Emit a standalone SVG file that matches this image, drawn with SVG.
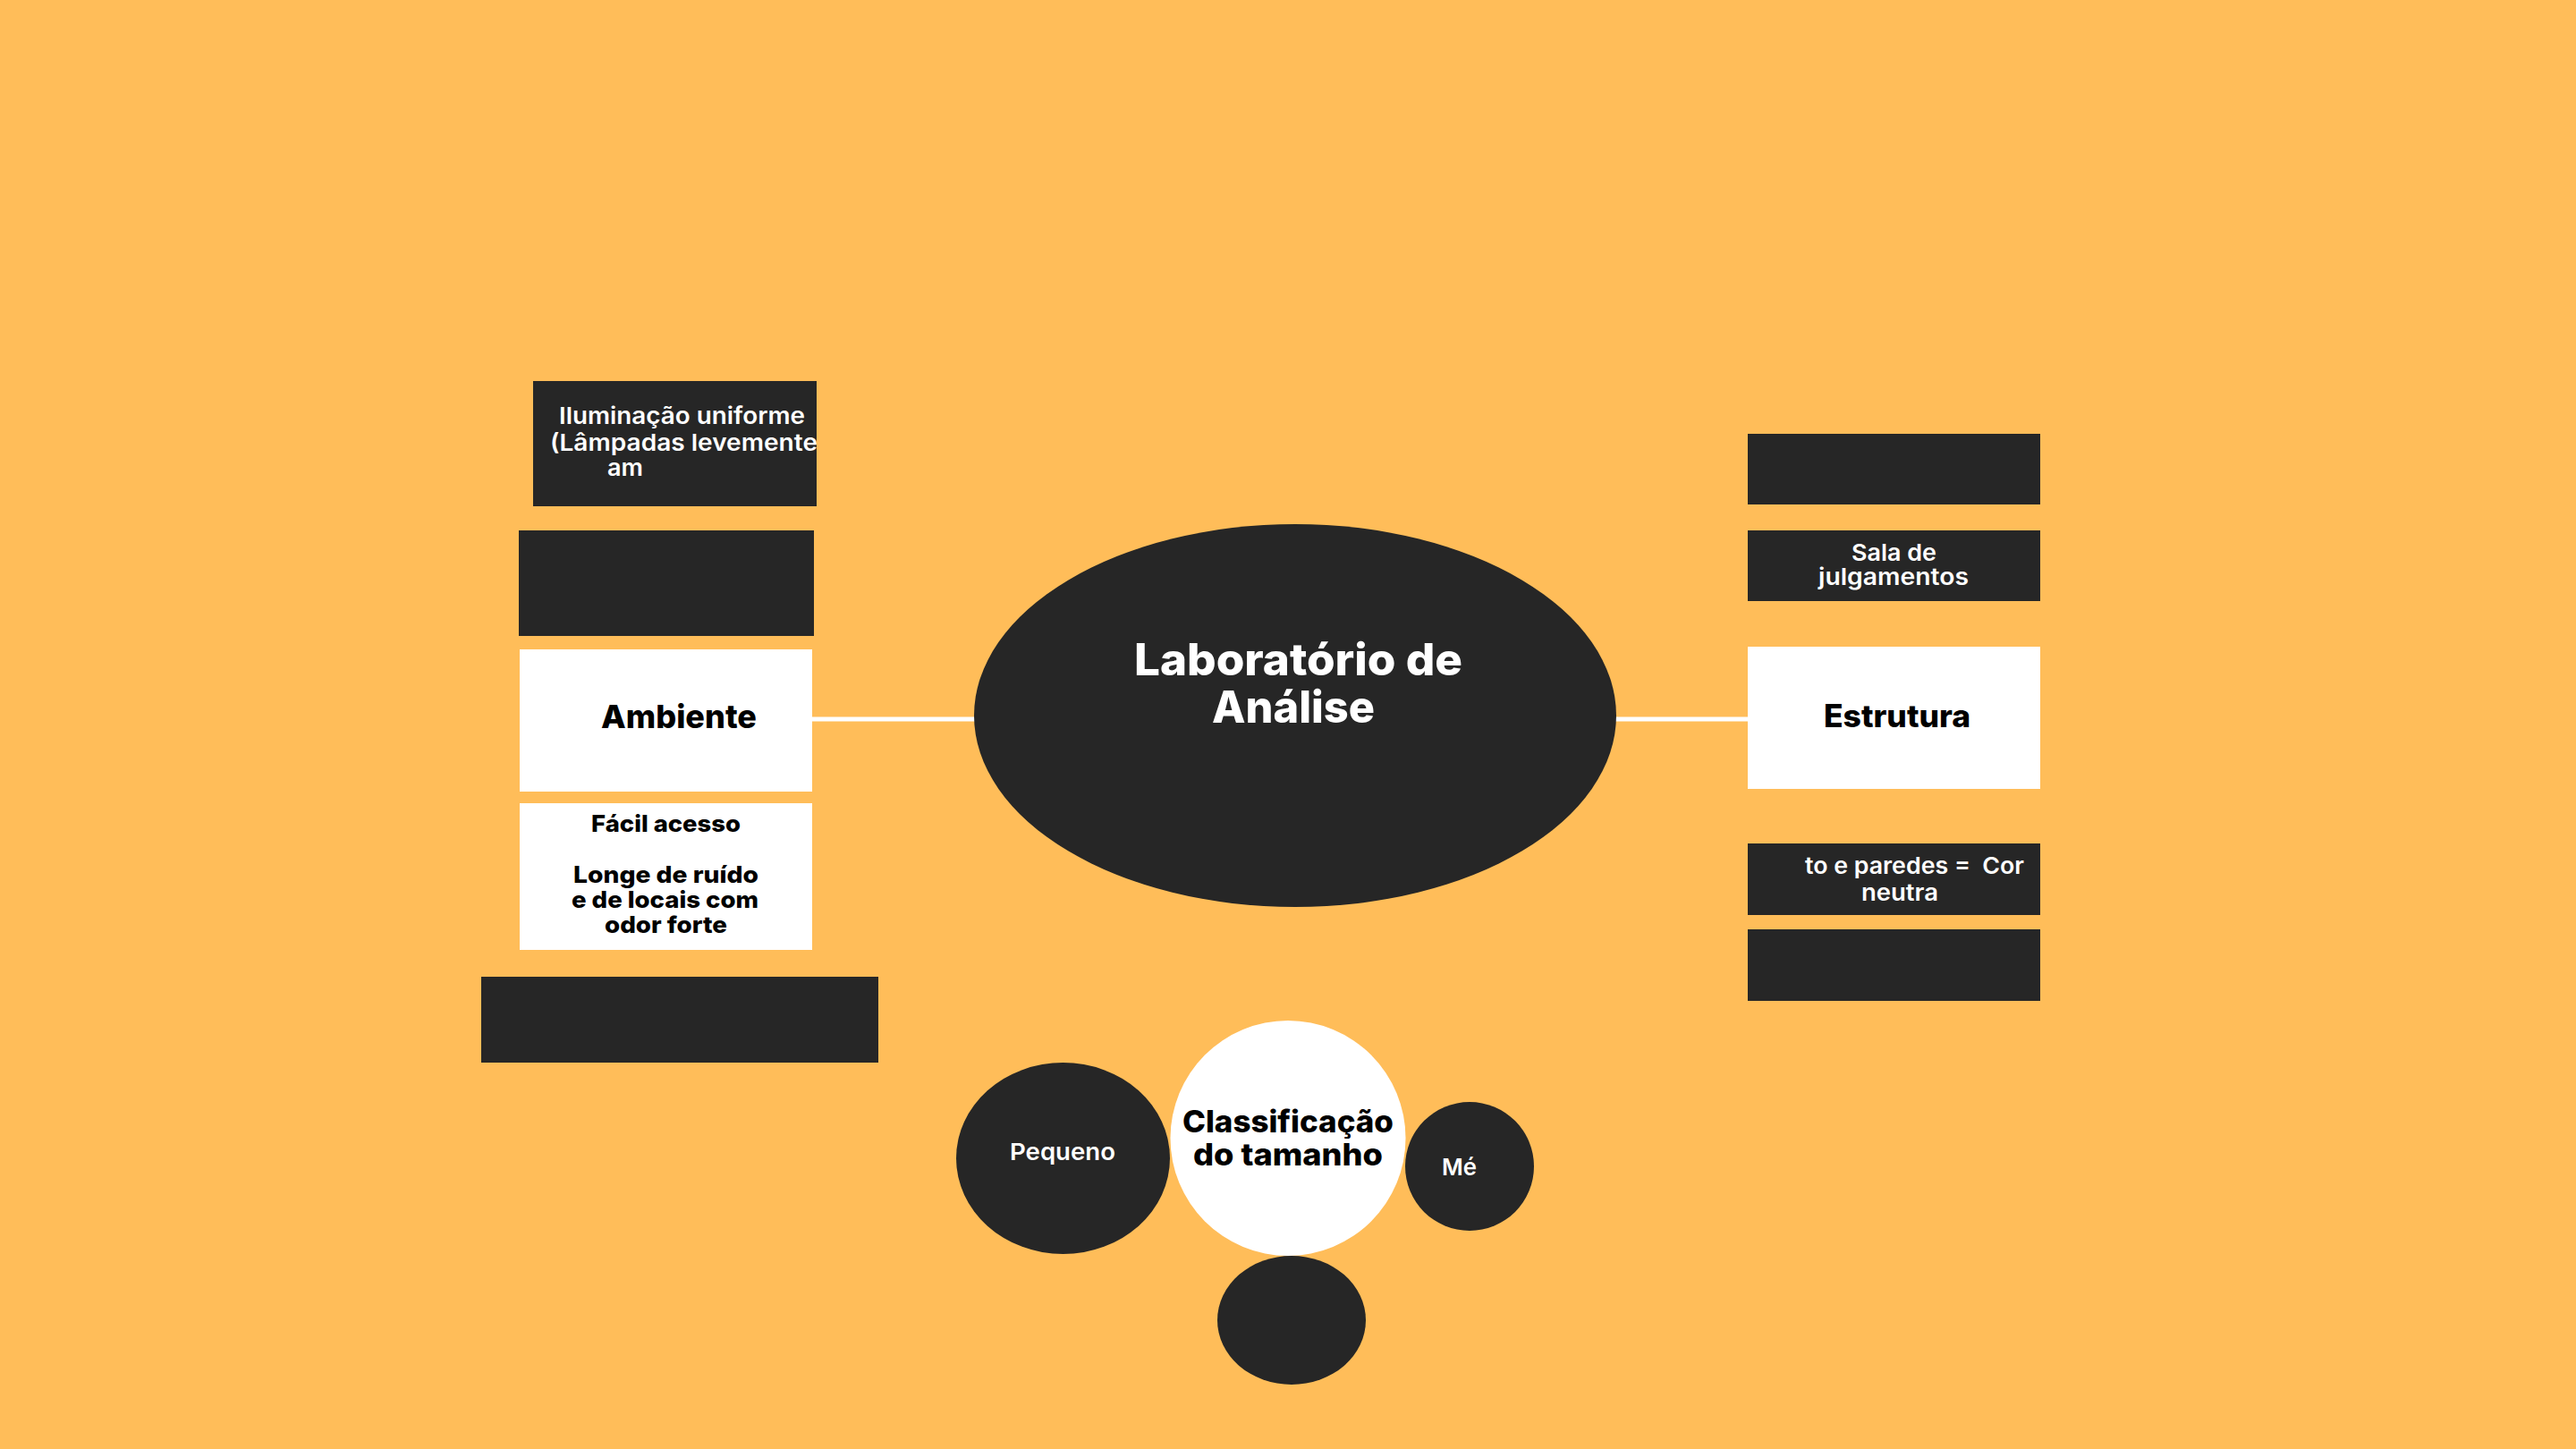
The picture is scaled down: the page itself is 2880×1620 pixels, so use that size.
<svg xmlns="http://www.w3.org/2000/svg" width="2880" height="1620" viewBox="0 0 2880 1620">
<style>
.dark{fill:#262626}
.light{fill:#ffffff}
.wt{fill:#ffffff;font-family:Inter,"Liberation Sans",sans-serif;font-weight:600}
.bt{fill:#000000;font-family:Inter,"Liberation Sans",sans-serif;font-weight:800}
.wb{fill:#ffffff;font-family:Inter,"Liberation Sans",sans-serif;font-weight:800}
.conn{stroke:#ffffff;stroke-width:5;fill:none}
</style>
<defs>
<clipPath id="clipIlum"><rect x="596" y="426" width="317" height="140"/></clipPath>
</defs>
<rect width="2880" height="1620" fill="#ffbd59"/>
<g id="connectors">
<line class="conn" x1="908" y1="804" x2="1092" y2="804"/>
<line class="conn" x1="1804" y1="804" x2="1954" y2="804"/>
</g>
<g id="node-iluminacao">
<rect class="dark" x="596" y="426" width="317" height="140"/>
<g clip-path="url(#clipIlum)">
<text class="wt" font-size="26" x="625" y="474" textLength="275" lengthAdjust="spacingAndGlyphs">Iluminação uniforme</text>
<text class="wt" font-size="26" x="615" y="504" textLength="299" lengthAdjust="spacingAndGlyphs">(Lâmpadas levemente</text>
<text class="wt" font-size="26" x="679" y="532" textLength="40" lengthAdjust="spacingAndGlyphs">am</text>
</g>
</g>
<g id="node-left-blank1"><rect class="dark" x="580" y="593" width="330" height="118"/></g>
<g id="node-ambiente">
<rect class="light" x="581" y="726" width="327" height="159"/>
<text class="bt" font-size="36" x="672" y="814" textLength="174" lengthAdjust="spacingAndGlyphs">Ambiente</text>
</g>
<g id="node-facil">
<rect class="light" x="581" y="898" width="327" height="164"/>
<text class="bt" font-size="26" x="661" y="930" textLength="167" lengthAdjust="spacingAndGlyphs">Fácil acesso</text>
<text class="bt" font-size="26" x="641" y="987" textLength="207" lengthAdjust="spacingAndGlyphs">Longe de ruído</text>
<text class="bt" font-size="26" x="639" y="1015" textLength="209" lengthAdjust="spacingAndGlyphs">e de locais com</text>
<text class="bt" font-size="26" x="676" y="1043" textLength="137" lengthAdjust="spacingAndGlyphs">odor forte</text>
</g>
<g id="node-left-blank2"><rect class="dark" x="538" y="1092" width="444" height="96"/></g>
<g id="node-center">
<ellipse class="dark" cx="1448" cy="800" rx="359" ry="214"/>
<text class="wb" font-size="50" x="1268" y="755" textLength="367" lengthAdjust="spacingAndGlyphs">Laboratório de</text>
<text class="wb" font-size="50" x="1355" y="808" textLength="182" lengthAdjust="spacingAndGlyphs">Análise</text>
</g>
<g id="node-right-blank1"><rect class="dark" x="1954" y="485" width="327" height="79"/></g>
<g id="node-sala">
<rect class="dark" x="1954" y="593" width="327" height="79"/>
<text class="wt" font-size="26" x="2070" y="627" textLength="95" lengthAdjust="spacingAndGlyphs">Sala de</text>
<text class="wt" font-size="26" x="2033" y="654" textLength="168" lengthAdjust="spacingAndGlyphs">julgamentos</text>
</g>
<g id="node-estrutura">
<rect class="light" x="1954" y="723" width="327" height="159"/>
<text class="bt" font-size="35" x="2039" y="813" textLength="164" lengthAdjust="spacingAndGlyphs">Estrutura</text>
</g>
<g id="node-paredes">
<rect class="dark" x="1954" y="943" width="327" height="80"/>
<text class="wt" font-size="26" x="2018" y="977" textLength="245" lengthAdjust="spacingAndGlyphs" xml:space="preserve">to e paredes =  Cor</text>
<text class="wt" font-size="26" x="2081" y="1007" textLength="86" lengthAdjust="spacingAndGlyphs">neutra</text>
</g>
<g id="node-right-blank2"><rect class="dark" x="1954" y="1039" width="327" height="80"/></g>
<g id="node-pequeno">
<ellipse class="dark" cx="1188.5" cy="1295" rx="119.5" ry="107"/>
<text class="wt" font-size="26" x="1129" y="1297" textLength="118" lengthAdjust="spacingAndGlyphs">Pequeno</text>
</g>
<g id="node-classificacao">
<ellipse class="light" cx="1440" cy="1272.5" rx="131.5" ry="131.5"/>
<text class="bt" font-size="34" x="1322" y="1266" textLength="236" lengthAdjust="spacingAndGlyphs">Classificação</text>
<text class="bt" font-size="34" x="1334" y="1303" textLength="212" lengthAdjust="spacingAndGlyphs">do tamanho</text>
</g>
<g id="node-medio">
<ellipse class="dark" cx="1643" cy="1304" rx="72" ry="72"/>
<text class="wt" font-size="26" x="1612" y="1314" textLength="39" lengthAdjust="spacingAndGlyphs">Mé</text>
</g>
<g id="node-bottom">
<ellipse class="dark" cx="1444" cy="1476" rx="83" ry="72"/>
</g>
</svg>
